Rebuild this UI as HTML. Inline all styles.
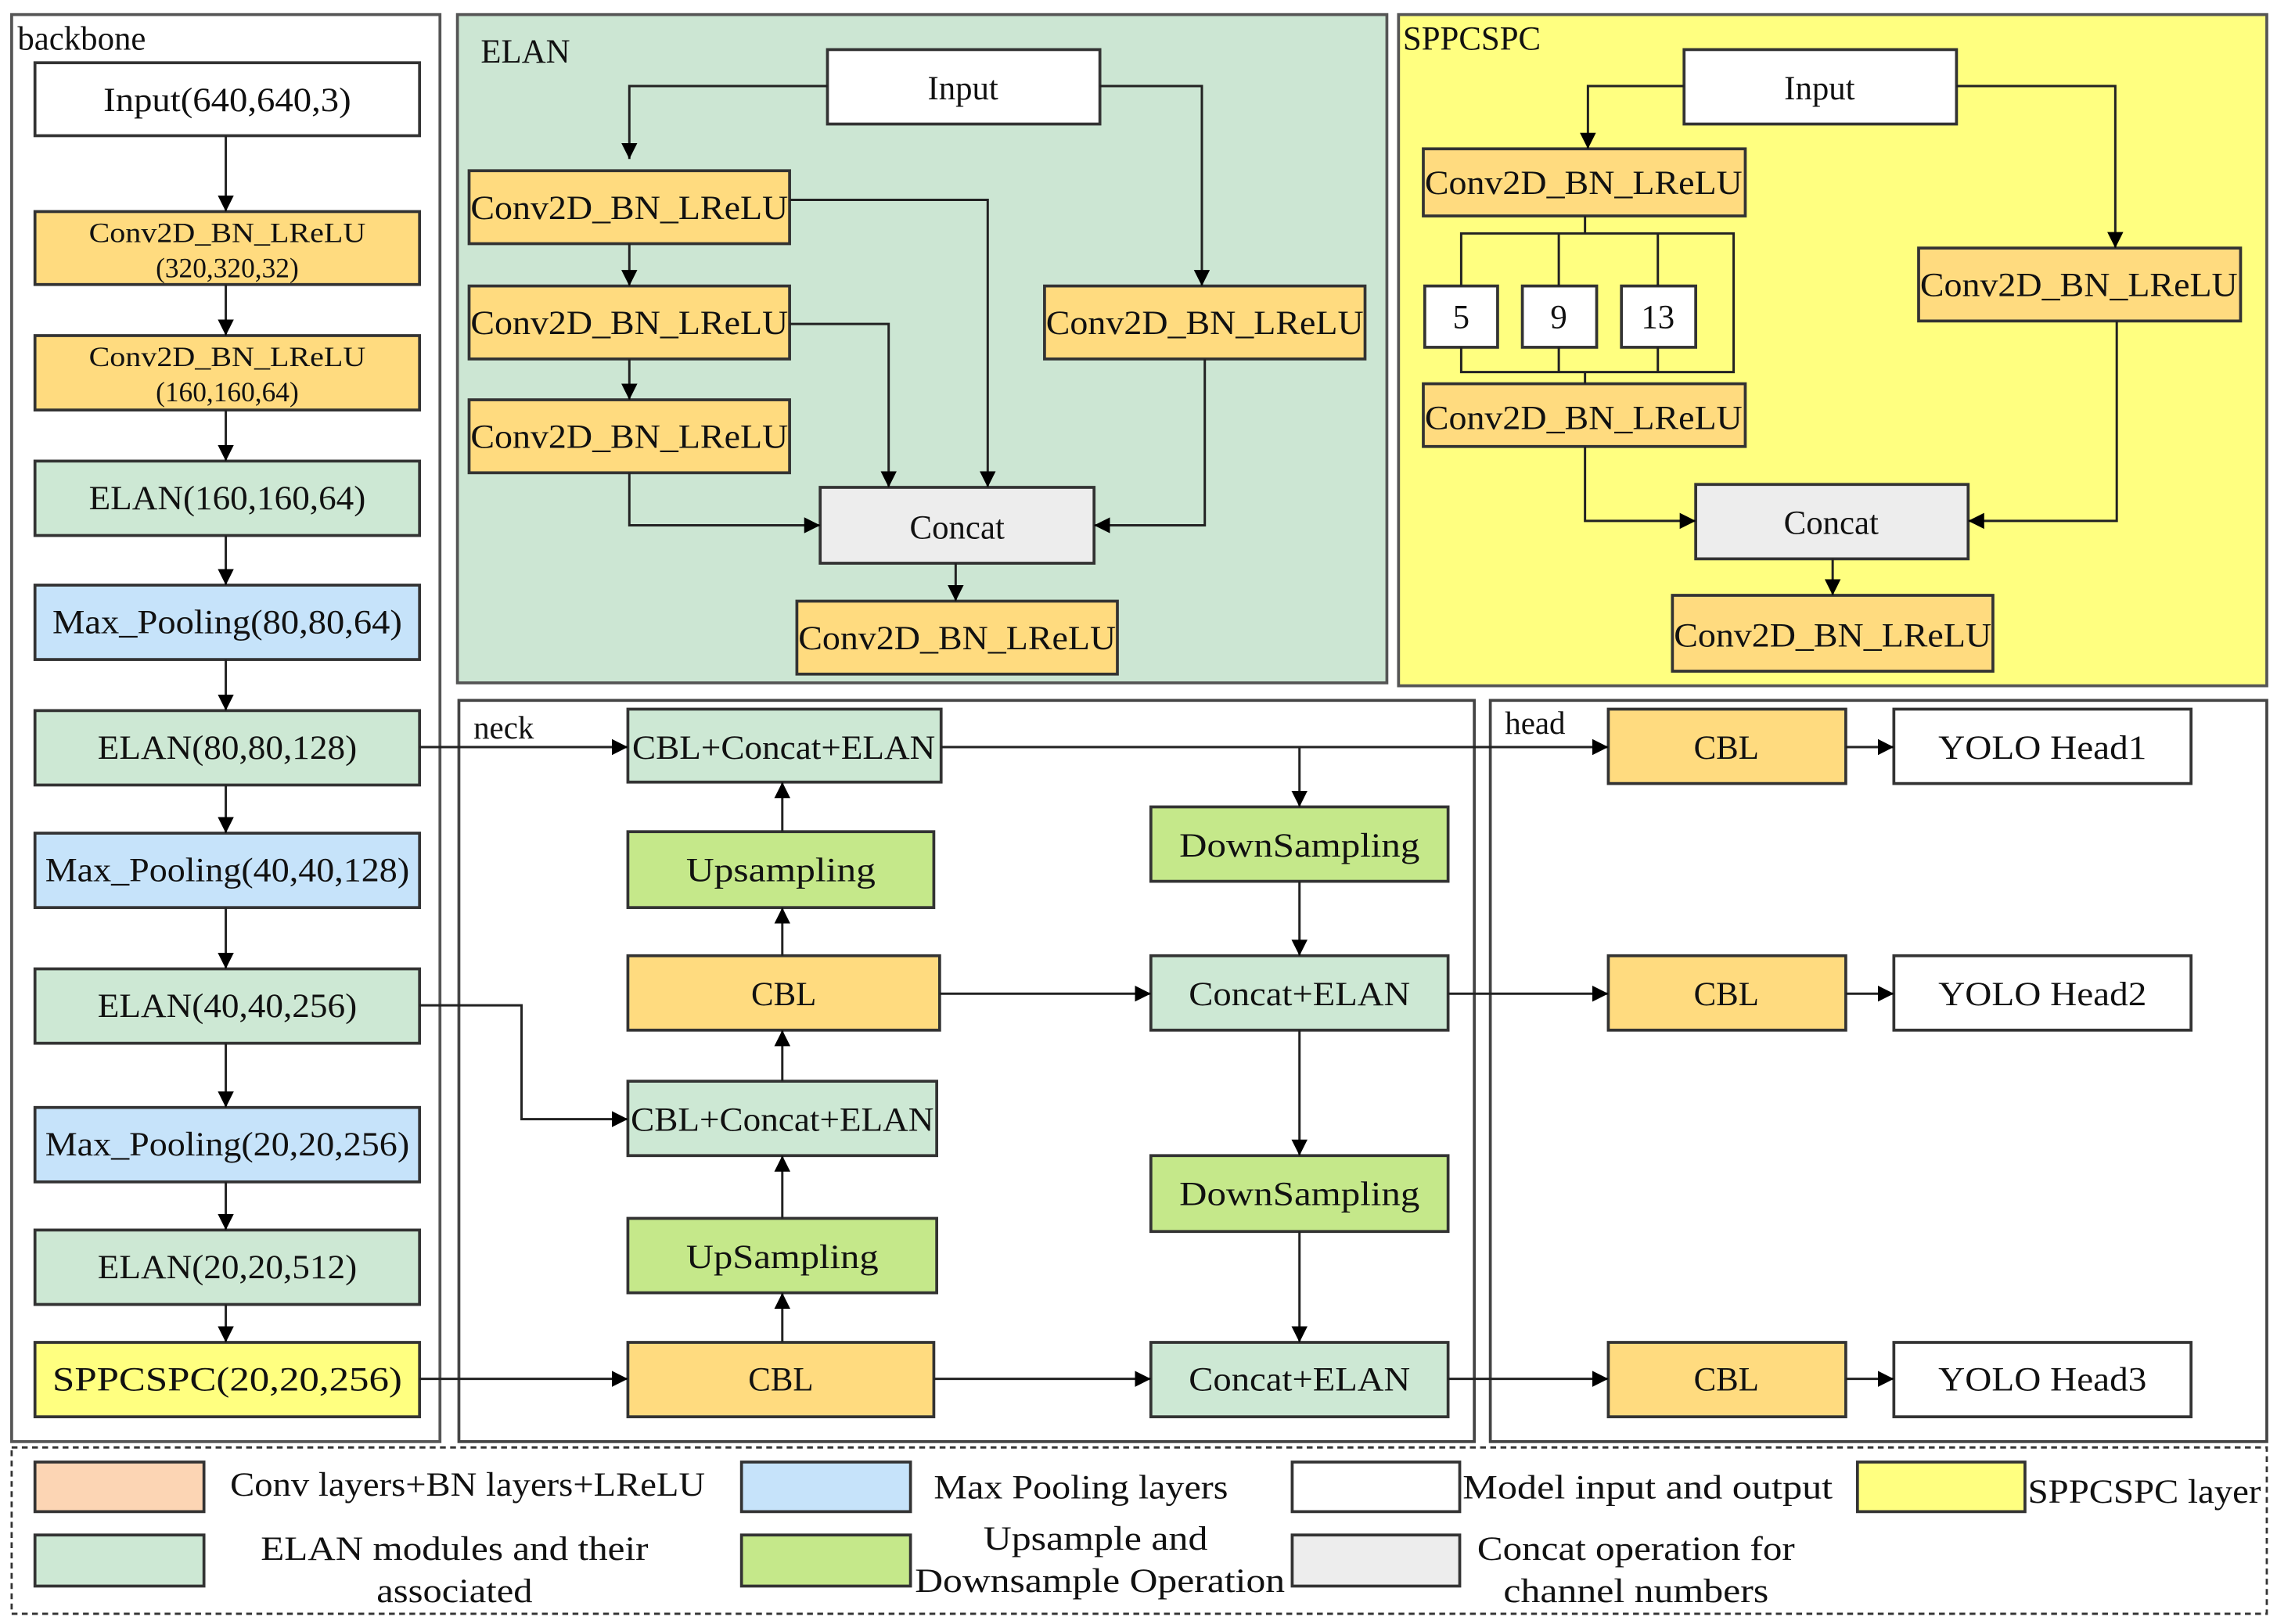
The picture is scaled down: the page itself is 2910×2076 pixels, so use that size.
<!DOCTYPE html>
<html><head><meta charset="utf-8"><style>
html,body{margin:0;padding:0;background:#fff;}
svg{display:block;}
text{font-family:"Liberation Serif",serif;fill:#111;}
</style></head><body>
<svg width="2910" height="2076" viewBox="0 0 1563 1113" preserveAspectRatio="none" xmlns="http://www.w3.org/2000/svg">
<defs>
<marker id="a" viewBox="0 0 10 10" refX="10" refY="5" markerWidth="11" markerHeight="11" markerUnits="userSpaceOnUse" orient="auto"><path d="M0,0 L10,5 L0,10 z" fill="#000"/></marker>
</defs>
<rect width="1563" height="1113" fill="#fff"/>
<rect x="8" y="10" width="294" height="978" fill="#fff" stroke="#555" stroke-width="2"/>
<rect x="314" y="10" width="638" height="458" fill="#CCE6D3" stroke="#555" stroke-width="2"/>
<rect x="960" y="10" width="596" height="460" fill="#FFFF80" stroke="#555" stroke-width="2"/>
<rect x="315" y="480" width="697" height="508" fill="#fff" stroke="#444" stroke-width="2"/>
<rect x="1023" y="480" width="533" height="508" fill="#fff" stroke="#444" stroke-width="2"/>
<rect x="8" y="992" width="1548" height="114" fill="none" stroke="#333" stroke-width="1.5" stroke-dasharray="4,3"/>
<text x="12" y="34" font-size="23">backbone</text>
<text x="330" y="43" font-size="23">ELAN</text>
<text x="963" y="34" font-size="23">SPPCSPC</text>
<text x="325" y="506" font-size="22">neck</text>
<text x="1033" y="503" font-size="22">head</text>

<g stroke="#333" stroke-width="2">
<rect x="24" y="43" width="264" height="50" fill="#fff"/>
<rect x="24" y="145" width="264" height="50" fill="#FFDB7F"/>
<rect x="24" y="230" width="264" height="51" fill="#FFDB7F"/>
<rect x="24" y="316" width="264" height="51" fill="#CDE8D4"/>
<rect x="24" y="401" width="264" height="51" fill="#C6E3FA"/>
<rect x="24" y="487" width="264" height="51" fill="#CDE8D4"/>
<rect x="24" y="571" width="264" height="51" fill="#C6E3FA"/>
<rect x="24" y="664" width="264" height="51" fill="#CDE8D4"/>
<rect x="24" y="759" width="264" height="51" fill="#C6E3FA"/>
<rect x="24" y="843" width="264" height="51" fill="#CDE8D4"/>
<rect x="24" y="920" width="264" height="51" fill="#FFFF80"/>
<rect x="568" y="34" width="187" height="51" fill="#fff"/>
<rect x="322" y="117" width="220" height="50" fill="#FFDB7F"/>
<rect x="322" y="196" width="220" height="50" fill="#FFDB7F"/>
<rect x="322" y="274" width="220" height="50" fill="#FFDB7F"/>
<rect x="717" y="196" width="220" height="50" fill="#FFDB7F"/>
<rect x="563" y="334" width="188" height="52" fill="#EDEDED"/>
<rect x="547" y="412" width="220" height="50" fill="#FFDB7F"/>
<rect x="1156" y="34" width="187" height="51" fill="#fff"/>
<rect x="977" y="102" width="221" height="46" fill="#FFDB7F"/>
<rect x="978" y="196" width="50" height="42" fill="#fff"/>
<rect x="1045" y="196" width="51" height="42" fill="#fff"/>
<rect x="1113" y="196" width="51" height="42" fill="#fff"/>
<rect x="977" y="263" width="221" height="43" fill="#FFDB7F"/>
<rect x="1317" y="170" width="221" height="50" fill="#FFDB7F"/>
<rect x="1164" y="332" width="187" height="51" fill="#EDEDED"/>
<rect x="1148" y="408" width="220" height="52" fill="#FFDB7F"/>
<rect x="431" y="486" width="215" height="50" fill="#CDE8D4"/>
<rect x="431" y="570" width="210" height="52" fill="#C5E88A"/>
<rect x="431" y="655" width="214" height="51" fill="#FFDB7F"/>
<rect x="431" y="741" width="212" height="51" fill="#CDE8D4"/>
<rect x="431" y="835" width="212" height="51" fill="#C5E88A"/>
<rect x="431" y="920" width="210" height="51" fill="#FFDB7F"/>
<rect x="790" y="553" width="204" height="51" fill="#C5E88A"/>
<rect x="790" y="655" width="204" height="51" fill="#CDE8D4"/>
<rect x="790" y="792" width="204" height="52" fill="#C5E88A"/>
<rect x="790" y="920" width="204" height="51" fill="#CDE8D4"/>
<rect x="1104" y="486" width="163" height="51" fill="#FFDB7F"/>
<rect x="1104" y="655" width="163" height="51" fill="#FFDB7F"/>
<rect x="1104" y="920" width="163" height="51" fill="#FFDB7F"/>
<rect x="1300" y="486" width="204" height="51" fill="#fff"/>
<rect x="1300" y="655" width="204" height="51" fill="#fff"/>
<rect x="1300" y="920" width="204" height="51" fill="#fff"/>
<rect x="24" y="1002" width="116" height="34" fill="#FCD5B4"/>
<rect x="509" y="1002" width="116" height="34" fill="#C6E3FA"/>
<rect x="887" y="1002" width="115" height="34" fill="#fff"/>
<rect x="1275" y="1002" width="115" height="34" fill="#FFFF80"/>
<rect x="24" y="1052" width="116" height="35" fill="#CDE8D4"/>
<rect x="509" y="1052" width="116" height="35" fill="#C5E88A"/>
<rect x="887" y="1052" width="115" height="35" fill="#EDEDED"/>
</g>

<g stroke="#222" stroke-width="1.6" fill="none" marker-end="url(#a)">
<path d="M155,93 V145"/><path d="M155,195 V230"/><path d="M155,281 V316"/><path d="M155,367 V401"/>
<path d="M155,452 V487"/><path d="M155,538 V571"/><path d="M155,622 V664"/><path d="M155,715 V759"/>
<path d="M155,810 V843"/><path d="M155,894 V920"/>
<path d="M568,59 H432 V109"/><path d="M755,59 H825 V196"/>
<path d="M432,167 V196"/><path d="M432,246 V274"/>
<path d="M542,137 H678 V334"/><path d="M542,222 H610 V334"/>
<path d="M432,324 V360 H563"/><path d="M827,246 V360 H751"/>
<path d="M656,386 V412"/>
<path d="M1156,59 H1090 V102"/><path d="M1343,59 H1452 V170"/>
<path d="M1088,306 V357 H1164"/><path d="M1453,220 V357 H1351"/>
<path d="M1258,383 V408"/>
<path d="M288,512 H431"/><path d="M288,689 H358 V767 H431"/><path d="M288,945 H431"/>
<path d="M537,920 V886"/><path d="M537,835 V792"/><path d="M537,741 V706"/><path d="M537,655 V622"/><path d="M537,570 V536"/>
<path d="M645,681 H790"/><path d="M641,945 H790"/>
<path d="M646,512 H1104"/><path d="M892,512 V553"/>
<path d="M892,604 V655"/><path d="M892,706 V792"/><path d="M892,844 V920"/>
<path d="M994,681 H1104"/><path d="M994,945 H1104"/>
<path d="M1267,512 H1300"/><path d="M1267,681 H1300"/><path d="M1267,945 H1300"/>
</g>
<g stroke="#222" stroke-width="1.6" fill="none">
<path d="M1088,148 V160"/><path d="M1003,196 V160 H1190 V255 H1003 V238"/>
<path d="M1070,160 V196"/><path d="M1138,160 V196"/><path d="M1070,238 V255"/><path d="M1138,238 V255"/>
<path d="M1088,255 V263"/>
</g>

<g font-size="23" text-anchor="middle">
<text x="156" y="76" textLength="170" lengthAdjust="spacingAndGlyphs">Input(640,640,3)</text>
<text x="156" y="166" font-size="19" textLength="190" lengthAdjust="spacingAndGlyphs">Conv2D_BN_LReLU</text>
<text x="156" y="190" font-size="19">(320,320,32)</text>
<text x="156" y="251" font-size="19" textLength="190" lengthAdjust="spacingAndGlyphs">Conv2D_BN_LReLU</text>
<text x="156" y="275" font-size="19">(160,160,64)</text>
<text x="156" y="349" textLength="190" lengthAdjust="spacingAndGlyphs">ELAN(160,160,64)</text>
<text x="156" y="434" textLength="240" lengthAdjust="spacingAndGlyphs">Max_Pooling(80,80,64)</text>
<text x="156" y="520" textLength="178" lengthAdjust="spacingAndGlyphs">ELAN(80,80,128)</text>
<text x="156" y="604" textLength="250" lengthAdjust="spacingAndGlyphs">Max_Pooling(40,40,128)</text>
<text x="156" y="697" textLength="178" lengthAdjust="spacingAndGlyphs">ELAN(40,40,256)</text>
<text x="156" y="792" textLength="250" lengthAdjust="spacingAndGlyphs">Max_Pooling(20,20,256)</text>
<text x="156" y="876" textLength="178" lengthAdjust="spacingAndGlyphs">ELAN(20,20,512)</text>
<text x="156" y="953" textLength="240" lengthAdjust="spacingAndGlyphs">SPPCSPC(20,20,256)</text>

<text x="661" y="68">Input</text>
<text x="432" y="150" textLength="218" lengthAdjust="spacingAndGlyphs">Conv2D_BN_LReLU</text>
<text x="432" y="229" textLength="218" lengthAdjust="spacingAndGlyphs">Conv2D_BN_LReLU</text>
<text x="432" y="307" textLength="218" lengthAdjust="spacingAndGlyphs">Conv2D_BN_LReLU</text>
<text x="827" y="229" textLength="218" lengthAdjust="spacingAndGlyphs">Conv2D_BN_LReLU</text>
<text x="657" y="369">Concat</text>
<text x="657" y="445" textLength="218" lengthAdjust="spacingAndGlyphs">Conv2D_BN_LReLU</text>

<text x="1249" y="68">Input</text>
<text x="1087" y="133" textLength="218" lengthAdjust="spacingAndGlyphs">Conv2D_BN_LReLU</text>
<text x="1003" y="225">5</text>
<text x="1070" y="225">9</text>
<text x="1138" y="225">13</text>
<text x="1087" y="294" textLength="218" lengthAdjust="spacingAndGlyphs">Conv2D_BN_LReLU</text>
<text x="1427" y="203" textLength="218" lengthAdjust="spacingAndGlyphs">Conv2D_BN_LReLU</text>
<text x="1257" y="366">Concat</text>
<text x="1258" y="443" textLength="218" lengthAdjust="spacingAndGlyphs">Conv2D_BN_LReLU</text>

<text x="538" y="520" textLength="208" lengthAdjust="spacingAndGlyphs">CBL+Concat+ELAN</text>
<text x="536" y="604" textLength="130" lengthAdjust="spacingAndGlyphs">Upsampling</text>
<text x="538" y="689">CBL</text>
<text x="537" y="775" textLength="208" lengthAdjust="spacingAndGlyphs">CBL+Concat+ELAN</text>
<text x="537" y="869" textLength="132" lengthAdjust="spacingAndGlyphs">UpSampling</text>
<text x="536" y="953">CBL</text>
<text x="892" y="587" textLength="165" lengthAdjust="spacingAndGlyphs">DownSampling</text>
<text x="892" y="689" textLength="152" lengthAdjust="spacingAndGlyphs">Concat+ELAN</text>
<text x="892" y="826" textLength="165" lengthAdjust="spacingAndGlyphs">DownSampling</text>
<text x="892" y="953" textLength="152" lengthAdjust="spacingAndGlyphs">Concat+ELAN</text>
<text x="1185" y="520">CBL</text>
<text x="1185" y="689">CBL</text>
<text x="1185" y="953">CBL</text>
<text x="1402" y="520" textLength="143" lengthAdjust="spacingAndGlyphs">YOLO Head1</text>
<text x="1402" y="689" textLength="143" lengthAdjust="spacingAndGlyphs">YOLO Head2</text>
<text x="1402" y="953" textLength="143" lengthAdjust="spacingAndGlyphs">YOLO Head3</text>
</g>
<g font-size="23" text-anchor="middle">
<text x="321" y="1025" textLength="326" lengthAdjust="spacingAndGlyphs">Conv layers+BN layers+LReLU</text>
<text x="742" y="1027" textLength="202" lengthAdjust="spacingAndGlyphs">Max Pooling layers</text>
<text x="1131" y="1027" textLength="254" lengthAdjust="spacingAndGlyphs">Model input and output</text>
<text x="1472" y="1030" textLength="160" lengthAdjust="spacingAndGlyphs">SPPCSPC layer</text>
<text x="312" y="1069" textLength="266" lengthAdjust="spacingAndGlyphs">ELAN modules and their</text>
<text x="312" y="1098" textLength="107" lengthAdjust="spacingAndGlyphs">associated</text>
<text x="752" y="1062" textLength="154" lengthAdjust="spacingAndGlyphs">Upsample and</text>
<text x="755" y="1091" textLength="254" lengthAdjust="spacingAndGlyphs">Downsample Operation</text>
<text x="1123" y="1069" textLength="218" lengthAdjust="spacingAndGlyphs">Concat operation for</text>
<text x="1123" y="1098" textLength="182" lengthAdjust="spacingAndGlyphs">channel numbers</text>
</g>
</svg>
</body></html>
